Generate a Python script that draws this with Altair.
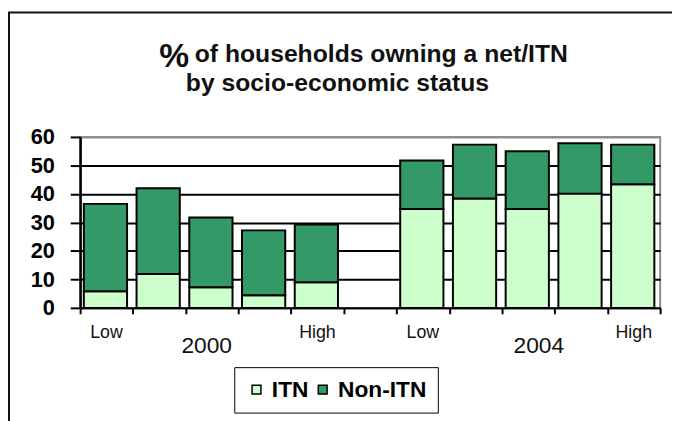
import altair as alt
import pandas as pd

# ---- data ----
years = ["2000", "2000", "2000", "2000", "2000", "2004", "2004", "2004", "2004", "2004"]
quintile = [1, 2, 3, 4, 5, 1, 2, 3, 4, 5]
slots = [0, 1, 2, 3, 4, 6, 7, 8, 9, 10]
itn = [5.8, 11.9, 7.2, 4.4, 9.0, 34.7, 38.4, 34.7, 40.1, 43.4]
total = [36.5, 42.0, 31.7, 27.2, 29.3, 51.7, 57.3, 55.0, 57.8, 57.3]

series_names = ["ITN", "Non-ITN"]
series_colors = ["#CCFFCC", "#339966"]

tick_label_text = ["Low", "High", "Low", "High"]
tick_label_pos = [0.5, 4.5, 6.5, 10.5]
year_text = ["2000", "2004"]
year_pos = [2.4, 8.7]

y_ticks = [0, 10, 20, 30, 40, 50, 60]
x_ticks = list(range(12))

FONT = "Liberation Sans"

rows = []
for yr, q, s, a, t in zip(years, quintile, slots, itn, total):
    rows.append({"year": yr, "q": q, "series": "ITN", "x0": s + 0.07, "x1": s + 0.89, "lo": 0.0, "hi": a})
    rows.append({"year": yr, "q": q, "series": "Non-ITN", "x0": s + 0.07, "x1": s + 0.89, "lo": a, "hi": t})
bars_df = pd.DataFrame(rows)

xscale = alt.Scale(domain=[0, 11], nice=False, zero=False)
yscale = alt.Scale(domain=[0, 60], nice=False)

bars = alt.Chart(bars_df).mark_bar(stroke="black", strokeWidth=2).encode(
    x=alt.X("x0:Q", scale=xscale,
            axis=alt.Axis(values=x_ticks, labels=False, title=None, grid=False,
                          domainColor="black", domainWidth=2,
                          tickColor="black", tickWidth=2, tickSize=6)),
    x2="x1:Q",
    y=alt.Y("lo:Q", scale=yscale,
            axis=alt.Axis(values=y_ticks, title=None, grid=True,
                          gridColor={"condition": {"test": "datum.value >= 60", "value": "#8c8c8c"},
                                     "value": "black"},
                          gridWidth=2, gridOpacity=1,
                          domainColor="black", domainWidth=2.5,
                          tickColor="black", tickWidth=2, tickSize=10,
                          labelFont=FONT, labelFontSize=22, labelFontWeight="bold",
                          labelColor="black", labelPadding=16)),
    y2="hi:Q",
    color=alt.Color("series:N",
                    scale=alt.Scale(domain=series_names, range=series_colors),
                    legend=alt.Legend(title=None, orient="none", legendX=156, legendY=233,
                                      direction="horizontal", symbolType="square",
                                      symbolSize=80, symbolStrokeColor="black",
                                      symbolStrokeWidth=1.5, symbolOpacity=1,
                                      labelFont=FONT, labelFontSize=23, labelFontWeight="bold",
                                      labelColor="black", labelOffset=4, columnPadding=2,
                                      strokeColor="black", padding=11,
                                      fillColor="white")),
)

lab_df = pd.DataFrame({"t": tick_label_text, "p": tick_label_pos})
labels = alt.Chart(lab_df).mark_text(font=FONT, fontSize=18, color="#111111",
                                     baseline="alphabetic", align="center").encode(
    x=alt.X("p:Q", scale=xscale), y=alt.value(203), text="t:N")

yr_df = pd.DataFrame({"t": year_text, "p": year_pos})
year_labels = alt.Chart(yr_df).mark_text(font=FONT, fontSize=23, color="#111111",
                                         baseline="alphabetic", align="center").encode(
    x=alt.X("p:Q", scale=xscale), y=alt.value(219), text="t:N")

one = pd.DataFrame({"a": [0]})
title_pct = alt.Chart(one).mark_text(font=FONT, fontSize=34, fontWeight="bold", color="#111111",
                                     align="left", baseline="alphabetic").encode(
    x=alt.value(80), y=alt.value(-71), text=alt.value("%"))
title_l1 = alt.Chart(one).mark_text(font=FONT, fontSize=25, fontWeight="bold", color="#111111",
                                    align="left", baseline="alphabetic").encode(
    x=alt.value(116), y=alt.value(-76), text=alt.value("of households owning a net/ITN"))
title_l2 = alt.Chart(one).mark_text(font=FONT, fontSize=25, fontWeight="bold", color="#111111",
                                    align="left", baseline="alphabetic").encode(
    x=alt.value(107), y=alt.value(-46), text=alt.value("by socio-economic status"))

frame_left = alt.Chart(one).mark_rule(color="#111111", strokeWidth=2).encode(
    x=alt.value(-72), y=alt.value(-126), y2=alt.value(300))
frame_top = alt.Chart(one).mark_rule(color="#111111", strokeWidth=2).encode(
    x=alt.value(-73), x2=alt.value(620), y=alt.value(-126))

chart = alt.layer(frame_left, frame_top, bars, labels, year_labels,
                  title_pct, title_l1, title_l2).properties(
    width=587, height=173,
    autosize=alt.AutoSizeParams(type="none"),
    padding={"left": 73, "top": 128, "right": 12, "bottom": 112},
    background="white",
).configure_view(stroke="#8c8c8c", strokeWidth=2)

chart.save("out.html", embed_options={"renderer": "svg", "actions": False})
